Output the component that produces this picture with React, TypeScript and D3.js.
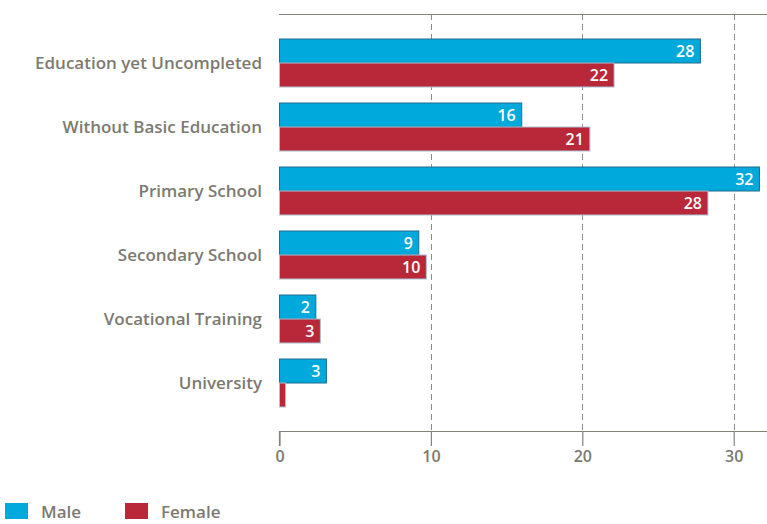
import { useEffect, useRef } from 'react';
import * as d3 from 'd3';

const categories = [
  'Education yet Uncompleted',
  'Without Basic Education',
  'Primary School',
  'Secondary School',
  'Vocational Training',
  'University',
];
const male = [27.8, 16.0, 31.7, 9.2, 2.4, 3.1];
const female = [22.1, 20.5, 28.3, 9.7, 2.7, 0.4];
const xTicks = [0, 10, 20, 30];

const COLORS = {
  male: '#00a9dc',
  maleStroke: '#1f6d8c',
  female: '#b82838',
  femaleStroke: '#a9c1d6',
  text: '#7c7a70',
  axis: '#85837a',
  grid: '#8f8d85',
};

const FONT = "'Open Sans', 'Noto Sans', sans-serif";
const W = 767;
const H = 524;

export default function App() {
  const svgRef = useRef<SVGSVGElement | null>(null);

  useEffect(() => {
    if (!svgRef.current) return;
    const svg = d3.select(svgRef.current);
    svg.selectAll('*').remove();

    const x = d3.scaleLinear().domain([0, 32.2]).range([279.5, 767]);
    const top = 14;
    const bottom = 431;
    const y = d3.scaleBand<string>()
      .domain(categories)
      .range([31, 415])
      .paddingInner(0.25)
      .paddingOuter(0.125);
    const bh = y.bandwidth() / 2;

    // gridlines
    svg.append('g')
      .selectAll('line')
      .data(xTicks.filter(t => t > 0))
      .join('line')
      .attr('x1', d => Math.round(x(d)) + 0.5).attr('x2', d => Math.round(x(d)) + 0.5)
      .attr('y1', top).attr('y2', bottom)
      .attr('stroke', COLORS.grid)
      .attr('stroke-width', 1)
      .attr('stroke-dasharray', '6,4');

    // top line
    svg.append('line')
      .attr('x1', x(0) - 0.5).attr('x2', W)
      .attr('y1', top + 0.5).attr('y2', top + 0.5)
      .attr('stroke', COLORS.axis).attr('stroke-width', 1.2);

    // bottom axis
    const axis = svg.append('g')
      .attr('transform', `translate(0,${bottom})`)
      .call(d3.axisBottom(x).tickValues(xTicks).tickSize(15).tickPadding(5).tickFormat(d3.format('d')));
    axis.attr('font-size', 16).attr('font-family', FONT).attr('font-weight', 600);
    axis.select('.domain').attr('stroke', COLORS.axis).attr('stroke-width', 1.2)
      .attr('d', `M${x(0)},15V0.5H${W}`);
    axis.selectAll('.tick line').attr('stroke', COLORS.axis).attr('stroke-width', 1.2);
    axis.selectAll('.tick text').attr('fill', COLORS.text);

    // category labels
    svg.append('g')
      .selectAll('text')
      .data(categories)
      .join('text')
      .attr('x', 262)
      .attr('y', d => (y(d) as number) + bh)
      .attr('dy', '0.35em')
      .attr('text-anchor', 'end')
      .attr('fill', COLORS.text)
      .style('font-family', FONT)
      .style('font-size', '17px')
      .style('font-weight', 600)
      .text(d => d);

    const series = [
      { name: 'Male', values: male, fill: COLORS.male, stroke: COLORS.maleStroke, off: 0 },
      { name: 'Female', values: female, fill: COLORS.female, stroke: COLORS.femaleStroke, off: bh },
    ];

    series.forEach(s => {
      const g = svg.append('g');
      g.selectAll('rect')
        .data(s.values)
        .join('rect')
        .attr('x', x(0))
        .attr('y', (_, i) => (y(categories[i]) as number) + s.off)
        .attr('width', d => x(d) - x(0))
        .attr('height', bh)
        .attr('fill', s.fill)
        .attr('stroke', s.stroke)
        .attr('stroke-width', 1);
      g.selectAll('text')
        .data(s.values)
        .join('text')
        .attr('x', d => x(d) - 6)
        .attr('y', (_, i) => (y(categories[i]) as number) + s.off + bh / 2)
        .attr('dy', '0.36em')
        .attr('text-anchor', 'end')
        .attr('fill', '#ffffff')
        .style('font-family', FONT)
        .style('font-size', '16px')
        .style('font-weight', 600)
        .text(d => (Math.round(d) > 0 ? String(Math.round(d)) : ''));
    });

    // legend
    const legend = svg.append('g');
    const items = [
      { name: 'Male', fill: COLORS.male, x: 5 },
      { name: 'Female', fill: COLORS.female, x: 125 },
    ];
    items.forEach(it => {
      legend.append('rect')
        .attr('x', it.x).attr('y', 503)
        .attr('width', 23).attr('height', 16)
        .attr('fill', it.fill);
      legend.append('text')
        .attr('x', it.x + 36).attr('y', 512)
        .attr('dy', '0.35em')
        .attr('fill', COLORS.text)
        .style('font-family', FONT)
        .style('font-size', '17px')
        .style('font-weight', 600)
        .text(it.name);
    });
  }, []);

  return (
    <svg ref={svgRef} width={W} height={H}
      style={{ position: 'absolute', left: 0, top: 0, background: '#ffffff' }} />
  );
}
